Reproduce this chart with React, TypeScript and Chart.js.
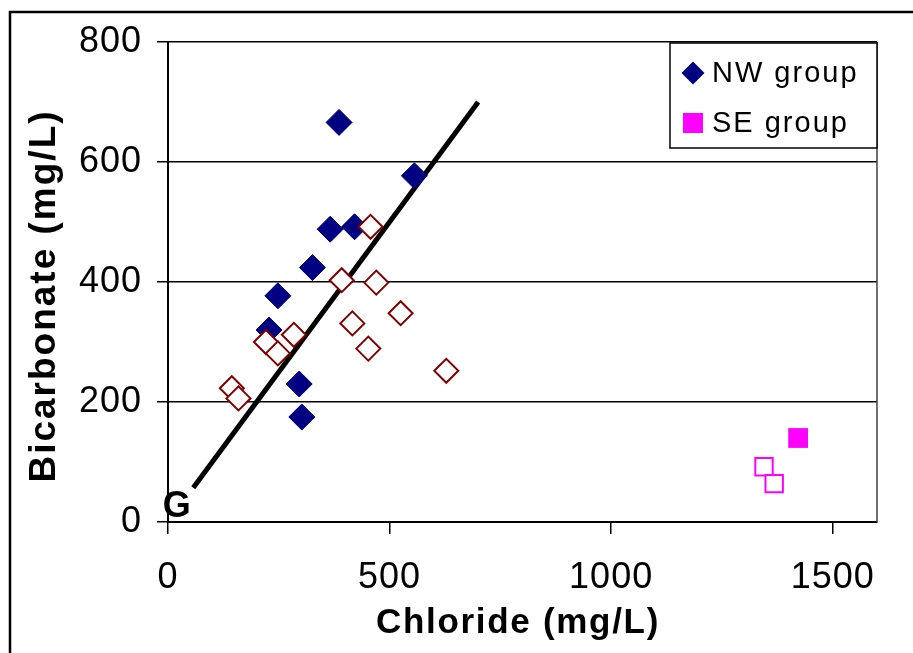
import { useEffect, useRef } from "react";
import { Chart, registerables } from "chart.js";

Chart.register(...registerables);

// Chloride (x) and bicarbonate (y), mg/L
const NW_CL = [386, 556, 366, 421, 326, 248, 228, 296, 302];
const NW_HCO3 = [666, 577, 488, 492, 424, 377, 320, 230, 175];

const NW_OPEN_CL = [457, 392, 470, 525, 416, 452, 628, 221, 284, 248, 144, 159];
const NW_OPEN_HCO3 = [492, 403, 399, 348, 331, 289, 252, 300, 312, 281, 223, 206];

const SE_CL = [1422];
const SE_HCO3 = [140];

const SE_OPEN_CL = [1345, 1368];
const SE_OPEN_HCO3 = [92, 64];

// 1:1 reference line starting at the "G" end-member
const LINE_CL = [57, 700];
const LINE_HCO3 = [57, 700];
const G_LABEL = { text: "G", x: 20, y: 25 };

const X_TICKS = [0, 500, 1000, 1500];
const Y_TICKS = [0, 200, 400, 600, 800];

const X_TITLE = "Chloride (mg/L)";
const Y_TITLE = "Bicarbonate (mg/L)";

const LEGEND_ITEMS = [
  { label: "NW group", color: "#000080", shape: "diamond" },
  { label: "SE group", color: "#FF00FF", shape: "square" },
];

const NAVY = "#000080";
const DARK_RED = "#800000";
const MAGENTA = "#FF00FF";

const pts = (xs: number[], ys: number[]) => xs.map((x, i) => ({ x, y: ys[i] }));

const FONT = "'Liberation Sans', Arial, sans-serif";

const decorations = {
  id: "decorations",
  beforeDraw(chart: any) {
    const ctx = chart.ctx as CanvasRenderingContext2D;
    ctx.save();
    ctx.fillStyle = "#fff";
    ctx.fillRect(0, 0, chart.width, chart.height);
    // outer frame
    ctx.strokeStyle = "#000";
    ctx.lineWidth = 2.5;
    ctx.beginPath();
    ctx.moveTo(10, chart.height + 5);
    ctx.lineTo(10, 12);
    ctx.lineTo(chart.width + 5, 12);
    ctx.stroke();
    ctx.restore();
    (ctx as any).letterSpacing = "1px";
  },
  afterDraw(chart: any) {
    const ctx = chart.ctx as CanvasRenderingContext2D;
    const area = chart.chartArea;
    const xs = chart.scales.x;
    const ys = chart.scales.y;
    ctx.save();
    (ctx as any).letterSpacing = "0px";

    // right edge of plot area
    ctx.strokeStyle = "#404040";
    ctx.lineWidth = 1.5;
    ctx.beginPath();
    ctx.moveTo(area.right, area.top);
    ctx.lineTo(area.right, area.bottom);
    ctx.stroke();

    // "G" end-member label
    ctx.fillStyle = "#000";
    ctx.font = `bold 36px ${FONT}`;
    ctx.textAlign = "center";
    ctx.textBaseline = "middle";
    ctx.fillText(G_LABEL.text, xs.getPixelForValue(G_LABEL.x), ys.getPixelForValue(G_LABEL.y));

    // axis titles
    (ctx as any).letterSpacing = "1.7px";
    ctx.font = `bold 35px ${FONT}`;
    ctx.textAlign = "center";
    ctx.textBaseline = "alphabetic";
    ctx.fillText(X_TITLE, 518, 633);

    (ctx as any).letterSpacing = "2px";
    ctx.font = `bold 37px ${FONT}`;
    ctx.save();
    ctx.translate(55, 296);
    ctx.rotate(-Math.PI / 2);
    ctx.fillText(Y_TITLE, 0, 0);
    ctx.restore();

    // legend box
    const bw = 207;
    const bh = 105;
    const bl = area.right - bw;
    const bt = area.top + 1;
    ctx.fillStyle = "#fff";
    ctx.fillRect(bl, bt, bw, bh);
    ctx.strokeStyle = "#000";
    ctx.lineWidth = 1.5;
    ctx.strokeRect(bl, bt, bw, bh);

    (ctx as any).letterSpacing = "2px";
    ctx.font = `29px ${FONT}`;
    ctx.textAlign = "left";
    ctx.textBaseline = "middle";
    LEGEND_ITEMS.forEach((item, i) => {
      const cy = bt + 30 + i * 50;
      const cx = bl + 23;
      ctx.fillStyle = item.color;
      ctx.beginPath();
      if (item.shape === "diamond") {
        const r = 11.5;
        ctx.moveTo(cx, cy - r);
        ctx.lineTo(cx + r, cy);
        ctx.lineTo(cx, cy + r);
        ctx.lineTo(cx - r, cy);
        ctx.closePath();
      } else {
        ctx.rect(cx - 10, cy - 10, 20, 20);
      }
      ctx.fill();
      ctx.fillStyle = "#000";
      ctx.fillText(item.label, bl + 42, cy + 1);
    });
    ctx.restore();
    (ctx as any).letterSpacing = "0px";
  },
};

export default function App() {
  const ref = useRef<HTMLCanvasElement | null>(null);

  useEffect(() => {
    if (!ref.current) return;
    const chart = new Chart(ref.current, {
      type: "scatter",
      data: {
        datasets: [
          {
            label: "1:1",
            type: "line",
            data: pts(LINE_CL, LINE_HCO3),
            borderColor: "#000",
            borderWidth: 5,
            pointRadius: 0,
            showLine: true,
            fill: false,
            order: 10,
          } as any,
          {
            label: "NW group",
            data: pts(NW_CL, NW_HCO3),
            pointStyle: "rectRot",
            pointRadius: 13,
            backgroundColor: NAVY,
            borderColor: NAVY,
            borderWidth: 1,
            order: 3,
          },
          {
            label: "NW group (open)",
            data: pts(NW_OPEN_CL, NW_OPEN_HCO3),
            pointStyle: "rectRot",
            pointRadius: 12,
            backgroundColor: "#fff",
            borderColor: DARK_RED,
            borderWidth: 2,
            order: 2,
          },
          {
            label: "SE group",
            data: pts(SE_CL, SE_HCO3),
            pointStyle: "rect",
            pointRadius: 14,
            backgroundColor: MAGENTA,
            borderColor: MAGENTA,
            borderWidth: 0,
            order: 3,
          },
          {
            label: "SE group (open)",
            data: pts(SE_OPEN_CL, SE_OPEN_HCO3),
            pointStyle: "rect",
            pointRadius: 12.3,
            backgroundColor: "#fff",
            borderColor: MAGENTA,
            borderWidth: 2,
            order: 2,
          },
        ],
      },
      options: {
        animation: false,
        responsive: false,
        events: [],
        layout: { padding: { left: 0, top: 42, right: 36, bottom: 0 } },
        plugins: {
          legend: { display: false },
          tooltip: { enabled: false },
          title: { display: false },
        },
        scales: {
          x: {
            type: "linear",
            min: 0,
            max: 1600,
            afterBuildTicks: (s: any) => {
              s.ticks = X_TICKS.map((v) => ({ value: v }));
            },
            afterFit: (s: any) => {
              s.height = 131;
            },
            grid: {
              display: true,
              drawOnChartArea: false,
              drawTicks: true,
              tickLength: 12,
              color: "#000",
              lineWidth: 1.5,
            },
            border: { display: true, color: "#000", width: 2 },
            ticks: {
              color: "#000",
              padding: 22,
              maxRotation: 0,
              callback: (v: any) => String(v),
              font: { family: FONT, size: 36 },
            },
          },
          y: {
            type: "linear",
            min: 0,
            max: 800,
            afterBuildTicks: (s: any) => {
              s.ticks = Y_TICKS.map((v) => ({ value: v }));
            },
            afterFit: (s: any) => {
              s.width = 168;
            },
            grid: {
              display: true,
              drawTicks: true,
              tickLength: 11,
              color: "#000",
              lineWidth: 1.5,
            },
            border: { display: true, color: "#000", width: 2 },
            ticks: {
              color: "#000",
              padding: 15,
              callback: (v: any) => String(v),
              font: { family: FONT, size: 36 },
            },
          },
        },
      },
      plugins: [decorations],
    });
    return () => chart.destroy();
  }, []);

  return (
    <div style={{ position: "fixed", left: 0, top: 0, width: 913, height: 653, background: "#fff" }}>
      <canvas ref={ref} width={913} height={653} style={{ display: "block" }} />
    </div>
  );
}
